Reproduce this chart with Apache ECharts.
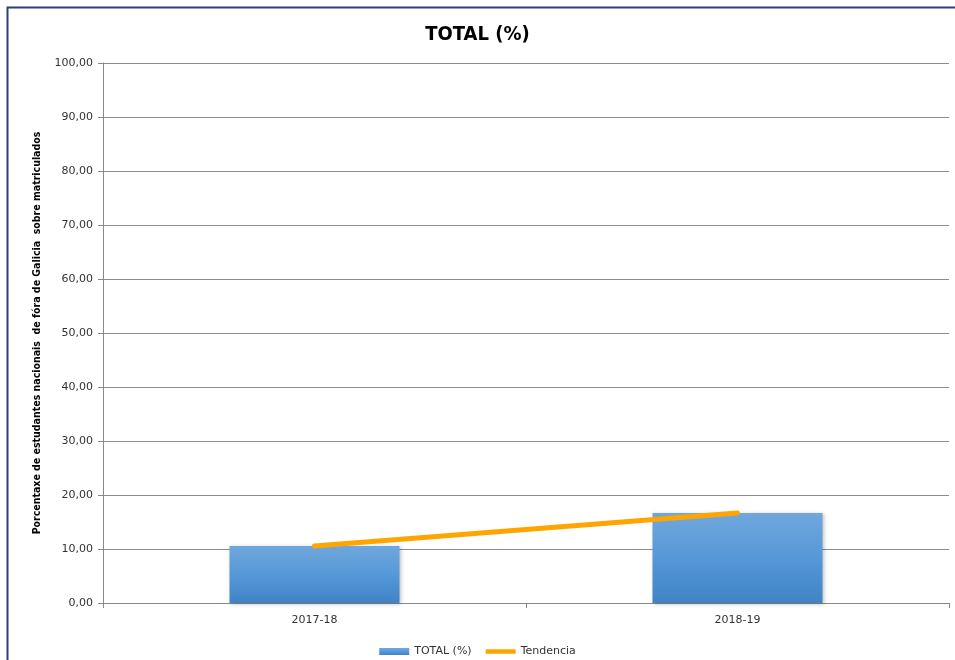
<!DOCTYPE html>
<html>
<head>
<meta charset="utf-8">
<script src="https://cdn.jsdelivr.net/npm/echarts@6/dist/echarts.min.js"></script>
<style>
  html, body { margin: 0; padding: 0; background: #fff; }
  #chart { width: 955px; height: 660px; }
</style>
</head>
<body>
<div id="chart"></div>
<script>
// datos
const cursos = ['2017-18', '2018-19'];
const totalPct = [10.55, 16.67];
const tendencia = [10.55, 16.67];
const yTicks = { min: 0, max: 100, interval: 10 };

const chart = echarts.init(document.getElementById('chart'));

const fmt = v => v.toFixed(2).replace('.', ',');

chart.setOption({
  animation: false,
  backgroundColor: '#fff',
  title: {
    text: 'TOTAL (%)',
    left: 'center',
    top: 20,
    textStyle: { fontFamily: 'DejaVu Sans Condensed', fontWeight: 'bold', fontSize: 20, color: '#000' }
  },
  graphic: [{
    type: 'rect',
    shape: { x: 7.5, y: 7.5, width: 960, height: 670 },
    style: { fill: 'none', stroke: '#2f3f7a', lineWidth: 2 },
    silent: true
  }],
  legend: {
    top: 641,
    left: 'center',
    itemGap: 14,
    itemWidth: 30,
    itemHeight: 7,
    textStyle: { fontFamily: 'DejaVu Sans', fontSize: 11, color: '#333' },
    data: [
      { name: 'TOTAL (%)', icon: 'rect' },
      { name: 'Tendencia', icon: 'path://M0,0h60v9h-60z' }
    ]
  },
  grid: { left: 103, right: 6, top: 63, bottom: 57 },
  xAxis: {
    type: 'category',
    data: cursos,
    axisLine: { lineStyle: { color: '#888' } },
    axisTick: { show: true, length: 5, lineStyle: { color: '#888' } },
    axisLabel: { fontFamily: 'DejaVu Sans', fontSize: 11, color: '#333', margin: 12 }
  },
  yAxis: {
    type: 'value',
    min: yTicks.min,
    max: yTicks.max,
    interval: yTicks.interval,
    name: 'Porcentaxe de estudantes nacionais  de fóra de Galicia  sobre matriculados',
    nameLocation: 'middle',
    nameGap: 60,
    nameTextStyle: { fontFamily: 'DejaVu Sans Condensed', fontWeight: 'bold', fontSize: 10.5, color: '#000' },
    axisLine: { show: true, lineStyle: { color: '#888' } },
    axisTick: { show: true, length: 5, lineStyle: { color: '#888' } },
    axisLabel: { fontFamily: 'DejaVu Sans', fontSize: 11, color: '#333', margin: 10, formatter: fmt },
    splitLine: { lineStyle: { color: '#8c8c8c', width: 1 } }
  },
  series: [
    {
      name: 'TOTAL (%)',
      type: 'bar',
      data: totalPct,
      barWidth: 170,
      itemStyle: {
        color: new echarts.graphic.LinearGradient(0, 0, 0, 1, [
          { offset: 0, color: '#70a7dc' },
          { offset: 0.5, color: '#5698d8' },
          { offset: 1, color: '#3f84c6' }
        ]),
        shadowColor: 'rgba(0,0,0,0.25)',
        shadowBlur: 4,
        shadowOffsetX: 1,
        shadowOffsetY: 1
      }
    },
    {
      name: 'Tendencia',
      type: 'line',
      data: tendencia,
      showSymbol: false,
      symbol: 'none',
      lineStyle: { color: '#ffa500', width: 5, cap: 'round' },
      itemStyle: { color: '#ffa500' }
    }
  ]
});
</script>
</body>
</html>
